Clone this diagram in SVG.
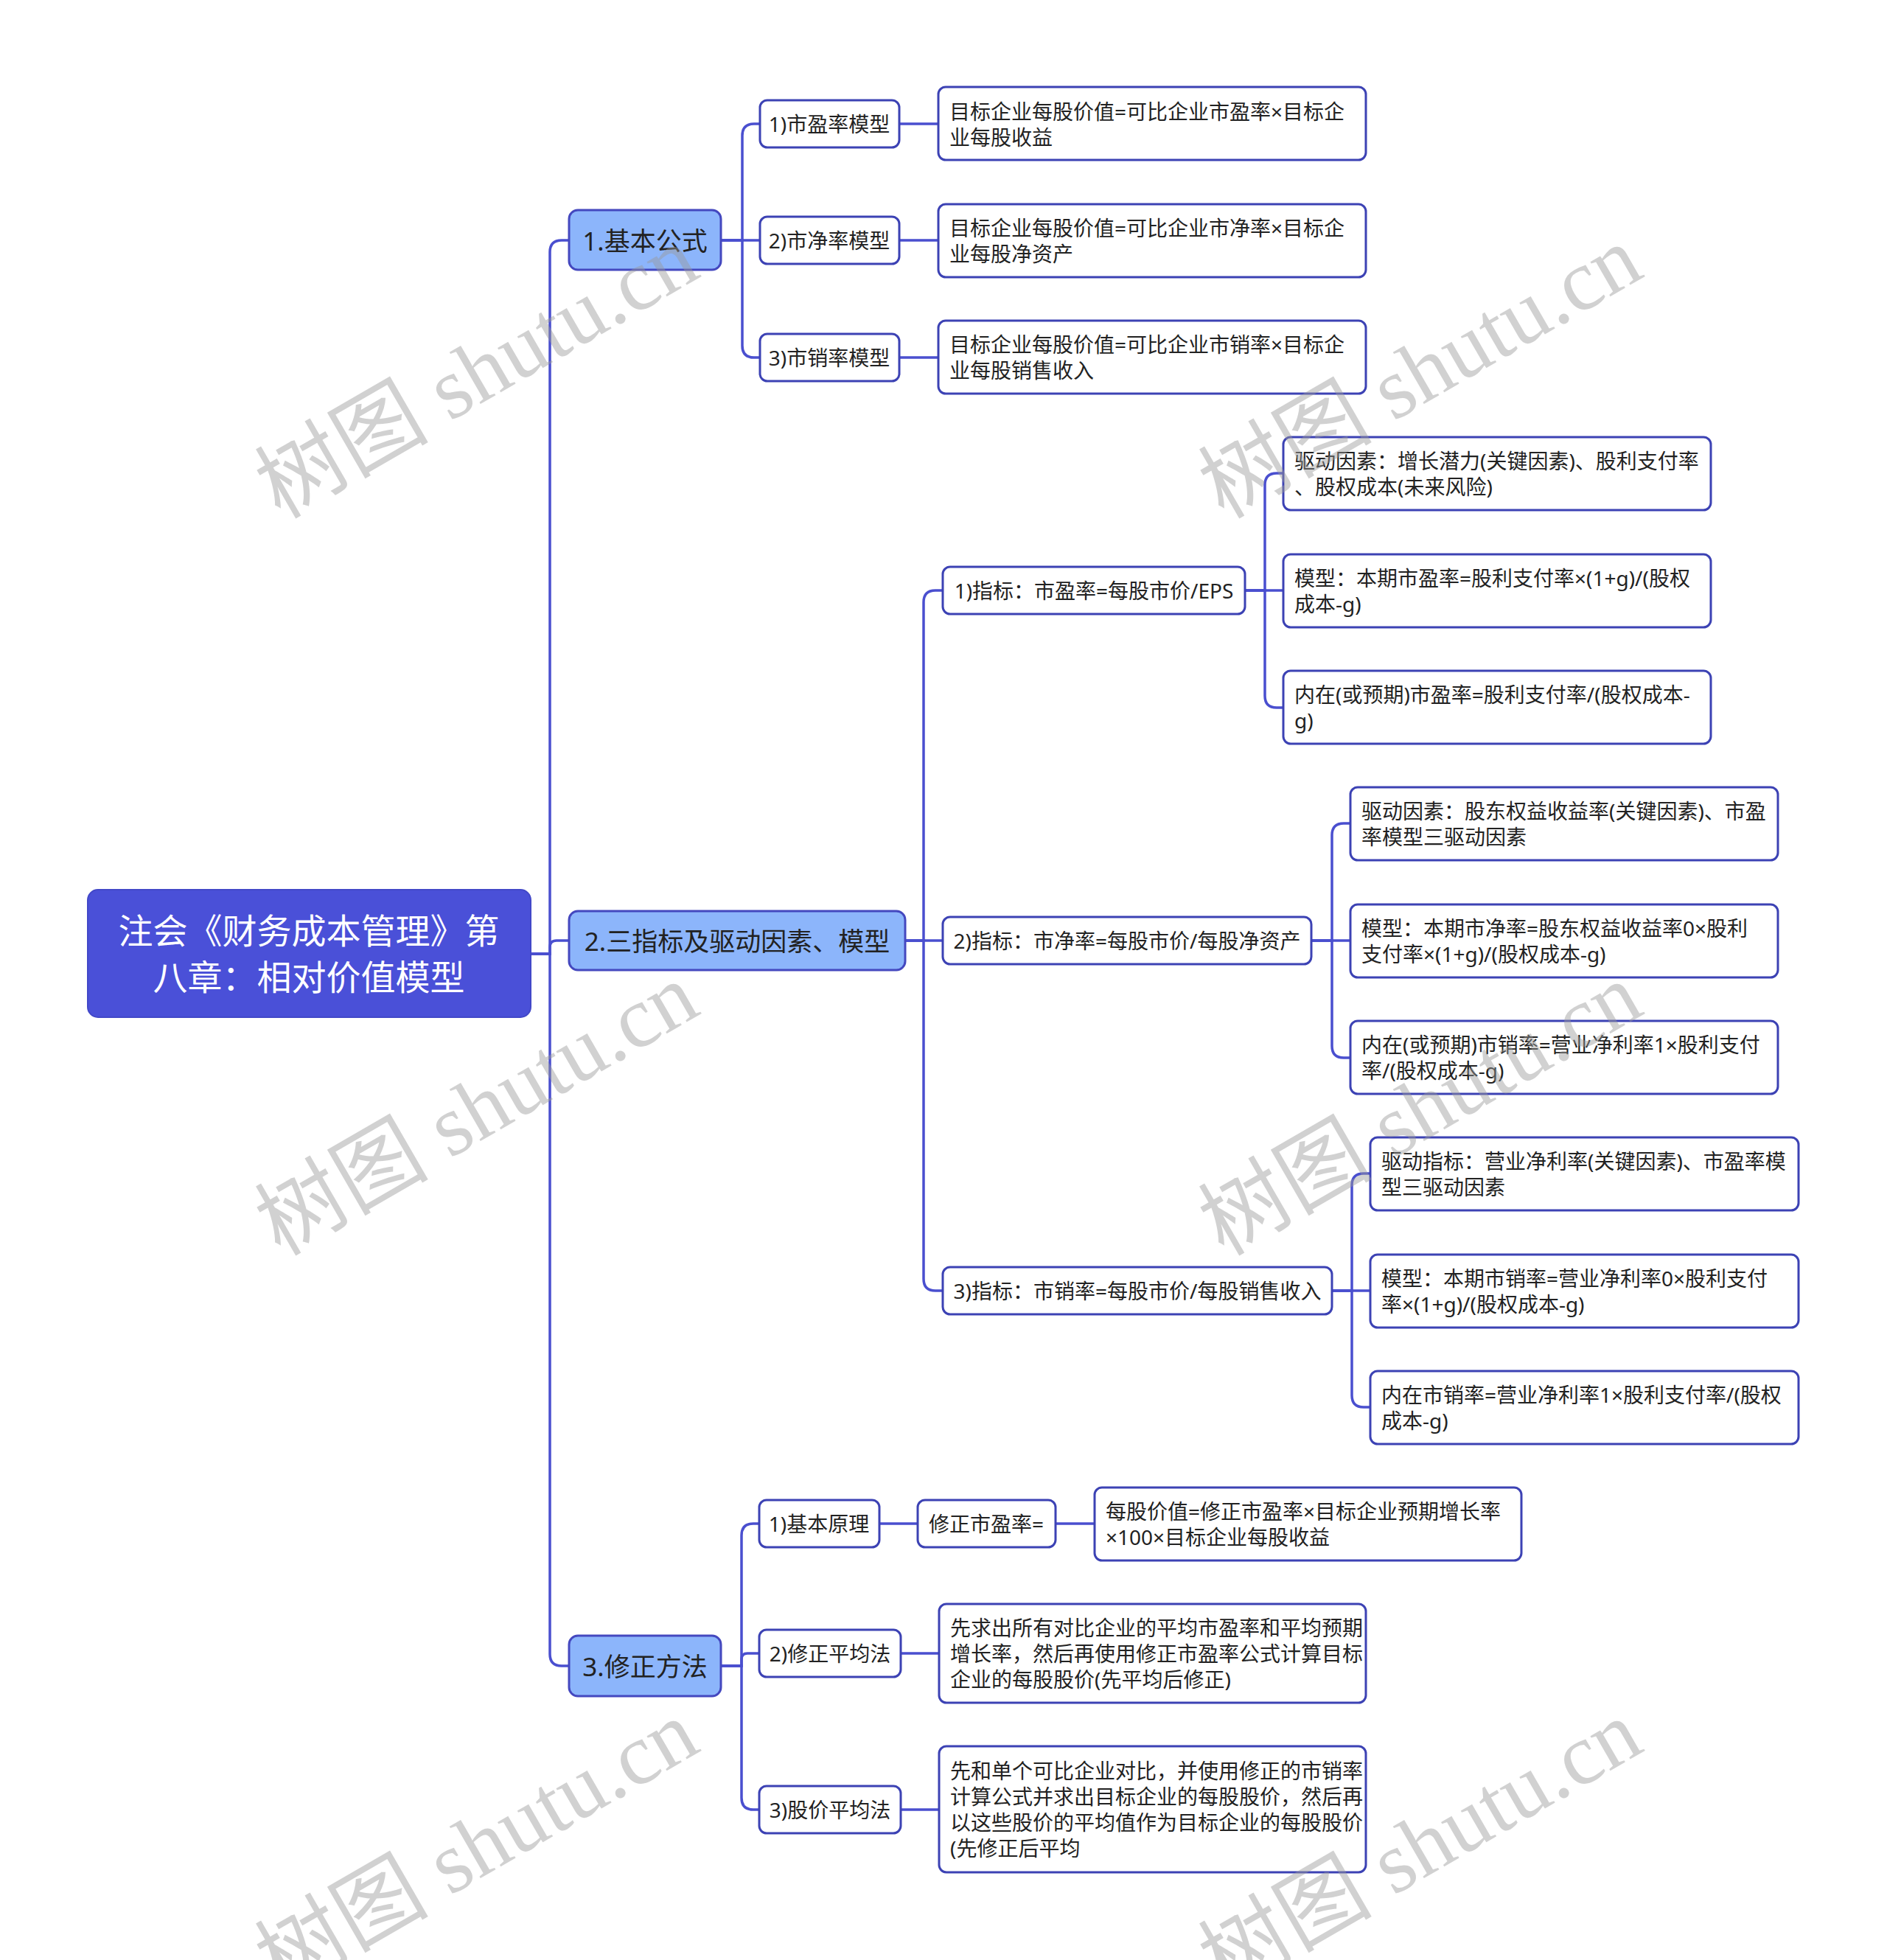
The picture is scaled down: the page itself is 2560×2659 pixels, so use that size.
<svg xmlns="http://www.w3.org/2000/svg" width="2560" height="2659" viewBox="0 0 2560 2659">
<style>
.bg{fill:#ffffff}
.conn path{fill:none;stroke:#4a4fcf;stroke-width:3.5;stroke-linecap:round}
.root rect{fill:#4a50d8;stroke:#4248c8;stroke-width:2}
.l1 rect{fill:#8cb5fb;stroke:#4448bf;stroke-width:3}
.nd rect{fill:#ffffff;stroke:#3c42b4;stroke-width:3}
text{font-family:"Noto Sans","Noto Sans CJK SC",sans-serif;fill:#222222;dominant-baseline:central}
.root text{fill:#ffffff;font-size:47px;text-anchor:middle}
.l1 text{font-size:35px;text-anchor:middle}
.c{font-size:28px;text-anchor:middle}
.t{font-size:28px}
.wm text{font-family:"Liberation Serif","Noto Sans CJK SC",serif;font-size:118px;fill:#9a9a9a;fill-opacity:0.45;dominant-baseline:alphabetic}
</style>
<rect class="bg" x="0" y="0" width="2560" height="2659"/>
<g class="conn" id="connectors">
<path d="M720 1294 H746 V342 Q746 326 762 326 H772"/>
<path d="M720 1294 H746 V1285 Q746 1276 755 1276 H772"/>
<path d="M720 1294 H746 V2244 Q746 2260 762 2260 H772"/>
<path d="M978 326 H1007 V184 Q1007 168 1023 168 H1031"/>
<path d="M978 326 H1031"/>
<path d="M978 326 H1007 V469 Q1007 485 1023 485 H1031"/>
<path d="M1220 168 H1273"/>
<path d="M1220 326 H1273"/>
<path d="M1220 485 H1273"/>
<path d="M1228 1276 H1253 V817 Q1253 801 1269 801 H1279"/>
<path d="M1228 1276 H1279"/>
<path d="M1228 1276 H1253 V1735 Q1253 1751 1269 1751 H1279"/>
<path d="M1689 801 H1716 V658 Q1716 642 1732 642 H1741"/>
<path d="M1689 801 H1741"/>
<path d="M1689 801 H1716 V944 Q1716 960 1732 960 H1741"/>
<path d="M1779 1276 H1807 V1133 Q1807 1117 1823 1117 H1832"/>
<path d="M1779 1276 H1832"/>
<path d="M1779 1276 H1807 V1419 Q1807 1435 1823 1435 H1832"/>
<path d="M1807 1751 H1834 V1608 Q1834 1592 1850 1592 H1859"/>
<path d="M1807 1751 H1859"/>
<path d="M1807 1751 H1834 V1893 Q1834 1909 1850 1909 H1859"/>
<path d="M978 2260 H1006 V2083 Q1006 2067 1022 2067 H1030"/>
<path d="M978 2260 H1006 V2251 Q1006 2243 1014 2243 H1030"/>
<path d="M978 2260 H1006 V2439 Q1006 2455 1022 2455 H1030"/>
<path d="M1193 2067 H1245"/>
<path d="M1432 2067 H1485"/>
<path d="M1222 2243 H1274"/>
<path d="M1222 2455 H1274"/>
</g>
<g id="root" class="root"><rect x="119" y="1207" width="601" height="173" rx="14"/><text x="419" y="1262">注会《财务成本管理》第</text><text x="419" y="1325">八章：相对价值模型</text></g>
<g id="n1" class="l1"><rect x="772" y="285" width="206" height="81" rx="12"/><text x="875" y="326">1.基本公式</text></g>
<g id="n2" class="l1"><rect x="772" y="1236" width="456" height="80" rx="12"/><text x="1000" y="1276">2.三指标及驱动因素、模型</text></g>
<g id="n3" class="l1"><rect x="772" y="2219" width="206" height="82" rx="12"/><text x="875" y="2260">3.修正方法</text></g>
<g id="n1-1" class="nd"><rect x="1031" y="136" width="189" height="64" rx="10"/><text class="c" x="1125" y="168">1)市盈率模型</text></g>
<g id="n1-2" class="nd"><rect x="1031" y="294" width="189" height="64" rx="10"/><text class="c" x="1125" y="326">2)市净率模型</text></g>
<g id="n1-3" class="nd"><rect x="1031" y="453" width="189" height="64" rx="10"/><text class="c" x="1125" y="485">3)市销率模型</text></g>
<g id="n1-1-1" class="nd"><rect x="1273" y="118" width="580" height="99" rx="10"/><text class="t" x="1288" y="151">目标企业每股价值=可比企业市盈率×目标企</text><text class="t" x="1288" y="186">业每股收益</text></g>
<g id="n1-2-1" class="nd"><rect x="1273" y="277" width="580" height="99" rx="10"/><text class="t" x="1288" y="309">目标企业每股价值=可比企业市净率×目标企</text><text class="t" x="1288" y="344">业每股净资产</text></g>
<g id="n1-3-1" class="nd"><rect x="1273" y="435" width="580" height="99" rx="10"/><text class="t" x="1288" y="467">目标企业每股价值=可比企业市销率×目标企</text><text class="t" x="1288" y="502">业每股销售收入</text></g>
<g id="n2-1" class="nd"><rect x="1279" y="769" width="410" height="64" rx="10"/><text class="c" x="1484" y="801">1)指标：市盈率=每股市价/EPS</text></g>
<g id="n2-2" class="nd"><rect x="1279" y="1244" width="500" height="64" rx="10"/><text class="c" x="1529" y="1276">2)指标：市净率=每股市价/每股净资产</text></g>
<g id="n2-3" class="nd"><rect x="1279" y="1719" width="528" height="64" rx="10"/><text class="c" x="1543" y="1751">3)指标：市销率=每股市价/每股销售收入</text></g>
<g id="n2-1-1" class="nd"><rect x="1741" y="593" width="580" height="99" rx="10"/><text class="t" x="1756" y="625">驱动因素：增长潜力(关键因素)、股利支付率</text><text class="t" x="1756" y="660">、股权成本(未来风险)</text></g>
<g id="n2-1-2" class="nd"><rect x="1741" y="752" width="580" height="99" rx="10"/><text class="t" x="1756" y="784">模型：本期市盈率=股利支付率×(1+g)/(股权</text><text class="t" x="1756" y="819">成本-g)</text></g>
<g id="n2-1-3" class="nd"><rect x="1741" y="910" width="580" height="99" rx="10"/><text class="t" x="1756" y="942">内在(或预期)市盈率=股利支付率/(股权成本-</text><text class="t" x="1756" y="977">g)</text></g>
<g id="n2-2-1" class="nd"><rect x="1832" y="1068" width="580" height="99" rx="10"/><text class="t" x="1847" y="1100">驱动因素：股东权益收益率(关键因素)、市盈</text><text class="t" x="1847" y="1135">率模型三驱动因素</text></g>
<g id="n2-2-2" class="nd"><rect x="1832" y="1227" width="580" height="99" rx="10"/><text class="t" x="1847" y="1259">模型：本期市净率=股东权益收益率0×股利</text><text class="t" x="1847" y="1294">支付率×(1+g)/(股权成本-g)</text></g>
<g id="n2-2-3" class="nd"><rect x="1832" y="1385" width="580" height="99" rx="10"/><text class="t" x="1847" y="1417">内在(或预期)市销率=营业净利率1×股利支付</text><text class="t" x="1847" y="1452">率/(股权成本-g)</text></g>
<g id="n2-3-1" class="nd"><rect x="1859" y="1543" width="581" height="99" rx="10"/><text class="t" x="1874" y="1575">驱动指标：营业净利率(关键因素)、市盈率模</text><text class="t" x="1874" y="1610">型三驱动因素</text></g>
<g id="n2-3-2" class="nd"><rect x="1859" y="1702" width="581" height="99" rx="10"/><text class="t" x="1874" y="1734">模型：本期市销率=营业净利率0×股利支付</text><text class="t" x="1874" y="1769">率×(1+g)/(股权成本-g)</text></g>
<g id="n2-3-3" class="nd"><rect x="1859" y="1860" width="581" height="99" rx="10"/><text class="t" x="1874" y="1892">内在市销率=营业净利率1×股利支付率/(股权</text><text class="t" x="1874" y="1927">成本-g)</text></g>
<g id="n3-1" class="nd"><rect x="1030" y="2035" width="163" height="64" rx="10"/><text class="c" x="1111" y="2067">1)基本原理</text></g>
<g id="n3-1-1" class="nd"><rect x="1245" y="2035" width="187" height="64" rx="10"/><text class="c" x="1338" y="2067">修正市盈率=</text></g>
<g id="n3-1-1-1" class="nd"><rect x="1485" y="2018" width="579" height="99" rx="10"/><text class="t" x="1500" y="2050">每股价值=修正市盈率×目标企业预期增长率</text><text class="t" x="1500" y="2085">×100×目标企业每股收益</text></g>
<g id="n3-2" class="nd"><rect x="1030" y="2211" width="192" height="64" rx="10"/><text class="c" x="1126" y="2243">2)修正平均法</text></g>
<g id="n3-2-1" class="nd"><rect x="1274" y="2176" width="579" height="134" rx="10"/><text class="t" x="1289" y="2208">先求出所有对比企业的平均市盈率和平均预期</text><text class="t" x="1289" y="2243">增长率，然后再使用修正市盈率公式计算目标</text><text class="t" x="1289" y="2278">企业的每股股价(先平均后修正)</text></g>
<g id="n3-3" class="nd"><rect x="1030" y="2423" width="192" height="64" rx="10"/><text class="c" x="1126" y="2455">3)股价平均法</text></g>
<g id="n3-3-1" class="nd"><rect x="1274" y="2369" width="579" height="171" rx="10"/><text class="t" x="1289" y="2402">先和单个可比企业对比，并使用修正的市销率</text><text class="t" x="1289" y="2437">计算公式并求出目标企业的每股股价，然后再</text><text class="t" x="1289" y="2472">以这些股价的平均值作为目标企业的每股股价</text><text class="t" x="1289" y="2507">(先修正后平均</text></g>
<g class="wm" id="watermark">
<text transform="translate(380 705) rotate(-30)">树图 shutu.cn</text>
<text transform="translate(1660 705) rotate(-30)">树图 shutu.cn</text>
<text transform="translate(380 1705) rotate(-30)">树图 shutu.cn</text>
<text transform="translate(1660 1705) rotate(-30)">树图 shutu.cn</text>
<text transform="translate(380 2705) rotate(-30)">树图 shutu.cn</text>
<text transform="translate(1660 2705) rotate(-30)">树图 shutu.cn</text>
</g>
</svg>
